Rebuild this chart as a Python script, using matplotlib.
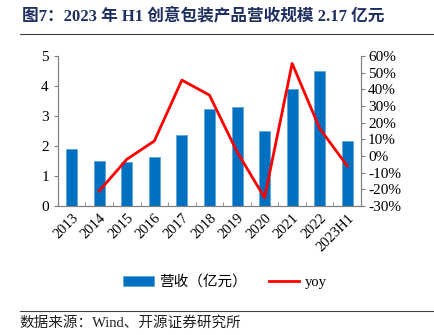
import numpy as np
import matplotlib
matplotlib.use('Agg')
from matplotlib import pyplot as plt
from matplotlib.ticker import FuncFormatter

years = ['2013', '2014', '2015', '2016', '2017', '2018', '2019', '2020', '2021', '2022', '2023H1']
revenue = [1.89, 1.50, 1.47, 1.62, 2.36, 3.23, 3.31, 2.50, 3.89, 4.50, 2.17]  # 亿元
yoy = [np.nan, -21, -2, 9, 45.5, 36.5, 2.5, -25, 55.5, 16.5, -6]  # %

serif = ['Liberation Serif', 'Noto Sans CJK SC']
plt.rcParams['font.family'] = serif

fig = plt.figure(figsize=(4.35, 3.35), dpi=100)
ax = fig.add_axes([0.133, 0.385, 0.697, 0.448])
ax2 = ax.twinx()

x = np.arange(len(years))
ax.bar(x, revenue, width=0.4, color='#0070C0', edgecolor='#5BA3DB', linewidth=0.5,
       label='营收（亿元）', zorder=2)
ax2.plot(x, yoy, color='#FF0000', lw=2, label='yoy', zorder=3)

ax.set_xlim(-0.5, len(years) - 0.5)
ax.set_ylim(0, 5)
ax2.set_ylim(-30, 60)
ax.set_yticks(range(0, 6))
ax2.set_yticks(range(-30, 61, 10))
ax2.yaxis.set_major_formatter(FuncFormatter(lambda v, p: '%d%%' % v))

ax.set_xticks(x)
ax.set_xticklabels(years, rotation=45, ha='right', rotation_mode='anchor')
ax.set_xticks(np.arange(-0.5, len(years)), minor=True)
ax.tick_params(axis='x', which='major', length=0, labelsize=10.5, pad=4)
ax.tick_params(axis='x', which='minor', direction='in', length=3, color='#808080')
ax.tick_params(axis='y', labelsize=11, length=3, color='#808080')
ax2.tick_params(axis='y', labelsize=11, length=3, color='#808080', pad=2)

for a in (ax, ax2):
    a.spines['top'].set_visible(False)
    for s in ('left', 'right', 'bottom'):
        a.spines[s].set_color('#808080')

# legend
h1, l1 = ax.get_legend_handles_labels()
h2, l2 = ax2.get_legend_handles_labels()
leg = fig.legend(h1 + h2, l1 + l2, loc='center', bbox_to_anchor=(0.517, 0.158), ncol=2,
                 frameon=False, prop={'family': serif, 'size': 10.5}, handlelength=2.1,
                 columnspacing=1.5, handletextpad=0.35)

# title and source
fig.text(0.05, 0.952, '图7：2023 年 H1 创意包装产品营收规模 2.17 亿元', family=serif,
         fontsize=12, fontweight='bold', color='#1F3060', va='center')
fig.add_artist(plt.Line2D([0.045, 0.995], [0.90, 0.90], color='#404040', lw=0.8))
fig.add_artist(plt.Line2D([0.045, 0.995], [0.073, 0.073], color='#404040', lw=0.8))
fig.text(0.045, 0.035, '数据来源：Wind、开源证券研究所', family=serif, fontsize=10.5,
         color='#202020', va='center')

fig.savefig('out.png', dpi=100)
